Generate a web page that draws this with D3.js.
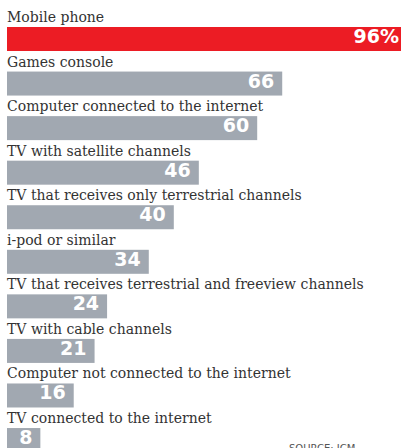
<!DOCTYPE html>
<html><head><meta charset="utf-8">
<script src="https://cdn.jsdelivr.net/npm/d3@7"></script>
<style>html,body{margin:0;padding:0;background:#fff;overflow:hidden}</style>
</head><body>
<svg id="c" width="401" height="448"></svg>
<script>
const categories = [
  "Mobile phone",
  "Games console",
  "Computer connected to the internet",
  "TV with satellite channels",
  "TV that receives only terrestrial channels",
  "i-pod or similar",
  "TV that receives terrestrial and freeview channels",
  "TV with cable channels",
  "Computer not connected to the internet",
  "TV connected to the internet"
];
const values = [96, 66, 60, 46, 40, 34, 24, 21, 16, 8];
const valueLabels = ["96%", "66", "60", "46", "40", "34", "24", "21", "16", "8"];
const source = "SOURCE: ICM";

const svg = d3.select("#c");
const W = 401, H = 448;
const x = d3.scaleLinear().domain([0, 100]).range([7, 7 + 417]);
const y = d3.scaleBand().domain(categories).range([5, 5 + 44.56 * categories.length]);
const barOff = 22, barH = 24;

const g = svg.selectAll("g.row").data(categories).join("g").attr("class", "row");

g.append("text")
  .attr("x", 7)
  .attr("y", d => y(d) + 17)
  .attr("font-family", "DejaVu Serif")
  .attr("font-size", 14)
  .attr("fill", "#333")
  .text(d => d);

g.append("rect")
  .attr("x", x(0))
  .attr("y", d => y(d) + barOff)
  .attr("height", barH)
  .attr("width", (d, i) => x(values[i]) - x(0))
  .attr("fill", (d, i) => i === 0 ? "#ec1c24" : "#a1a8b1");

g.append("text")
  .attr("x", (d, i) => Math.min(x(values[i]), W + 6) - 8)
  .attr("y", d => y(d) + barOff + 16)
  .attr("text-anchor", "end")
  .attr("font-family", "DejaVu Sans")
  .attr("font-weight", "bold")
  .attr("font-size", 19)
  .attr("fill", "#fff")
  .text((d, i) => valueLabels[i]);

svg.append("text")
  .attr("x", 289)
  .attr("y", 452)
  .attr("font-family", "DejaVu Sans")
  .attr("font-size", 10)
  .attr("fill", "#555")
  .text(source);
</script>
</body></html>
